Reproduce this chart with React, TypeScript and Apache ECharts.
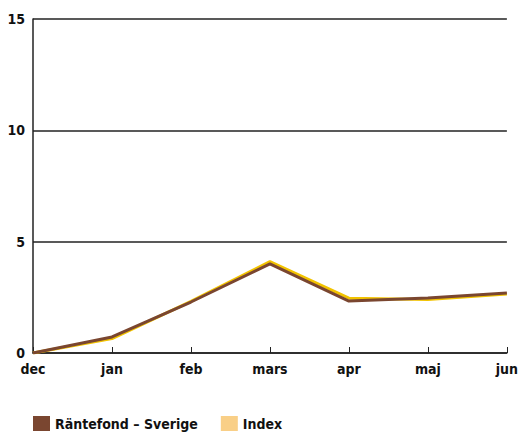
import React, { useEffect, useRef } from "react";
import * as echarts from "echarts";

const categories = ["dec", "jan", "feb", "mars", "apr", "maj", "jun"];
const fundValues = [0, 0.72, 2.29, 4.0, 2.33, 2.47, 2.69];
const indexValues = [0, 0.65, 2.32, 4.1, 2.46, 2.4, 2.65];
const fundName = "Räntefond – Sverige";
const indexName = "Index";

const FONT = "'Liberation Sans Narrow', 'DejaVu Sans Condensed', 'Liberation Sans', sans-serif";

export default function App() {
  const ref = useRef<HTMLDivElement>(null);
  useEffect(() => {
    if (!ref.current) return;
    const chart = echarts.init(ref.current, undefined, { renderer: "svg" });
    chart.setOption({
      animation: false,
      grid: { left: 33, right: 11, top: 19, bottom: 79, containLabel: false },
      legend: {
        left: 28,
        top: 411,
        itemWidth: 17,
        itemHeight: 15,
        itemGap: 23,
        icon: "rect",
        data: [fundName, indexName],
        textStyle: { fontFamily: FONT, fontWeight: "bold", fontSize: 14, color: "#111" },
      },
      xAxis: {
        type: "category",
        data: categories,
        boundaryGap: false,
        axisLine: { lineStyle: { color: "#222", width: 1.5 } },
        axisTick: { inside: true, length: 6, lineStyle: { color: "#222" } },
        axisLabel: { fontFamily: FONT, fontWeight: "bold", fontSize: 14, color: "#111", margin: 9 },
      },
      yAxis: {
        type: "value",
        min: 0,
        max: 15,
        interval: 5,
        axisLine: { show: true, lineStyle: { color: "#222", width: 1.5 } },
        axisTick: { show: false },
        splitLine: { lineStyle: { color: "#222", width: 1.5 } },
        axisLabel: { fontFamily: FONT, fontWeight: "bold", fontSize: 14, color: "#111", margin: 8 },
      },
      series: [
        {
          name: indexName,
          type: "line",
          data: indexValues,
          symbol: "none",
          lineStyle: { color: "#f2c300", width: 3 },
          itemStyle: { color: "#f9cf87" },
          z: 2,
        },
        {
          name: fundName,
          type: "line",
          data: fundValues,
          symbol: "none",
          lineStyle: { color: "#7a4630", width: 3 },
          itemStyle: { color: "#7a4630" },
          z: 3,
        },
      ],
    });
    return () => chart.dispose();
  }, []);
  return <div ref={ref} style={{ width: 521, height: 432, position: "absolute", left: 0, top: 0 }} />;
}
